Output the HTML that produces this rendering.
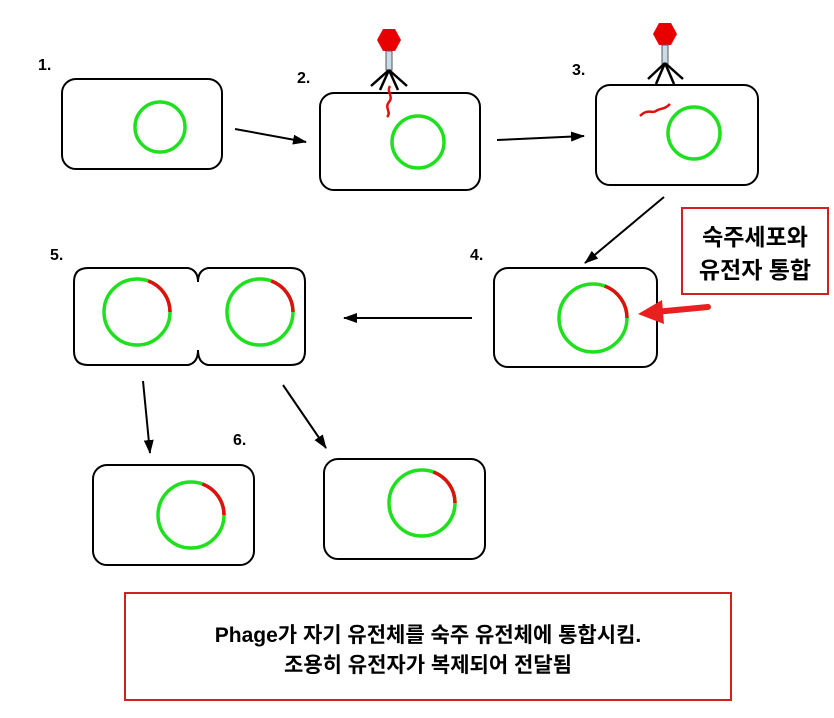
<!DOCTYPE html>
<html><head><meta charset="utf-8"><style>
body{margin:0;background:#fff}
svg text{font-family:"Liberation Sans","Noto Sans CJK KR",sans-serif;font-weight:bold}
</style></head><body>
<svg width="834" height="713" viewBox="0 0 834 713" xmlns="http://www.w3.org/2000/svg">
<defs>
<marker id="a" markerWidth="14" markerHeight="10" refX="13" refY="5" orient="auto" markerUnits="userSpaceOnUse"><path d="M0,0 L14,5 L0,10 z" fill="#000"/></marker>
</defs>
<g fill="none" stroke="#000" stroke-width="2">
<rect x="62" y="79" width="160" height="90" rx="14"/>
<rect x="320" y="93" width="160" height="97" rx="14"/>
<rect x="596" y="85" width="162" height="100" rx="14"/>
<rect x="494" y="268" width="163" height="99" rx="14"/>
<path d="M88,268 H188 Q198,270 198,282 Q198,270 208,268 H291 Q305,268 305,282 V351 Q305,365 291,365 H208 Q198,363 198,350 Q198,363 188,365 H88 Q74,365 74,351 V282 Q74,268 88,268 Z"/>
<rect x="93" y="465" width="161" height="100" rx="14"/>
<rect x="324" y="459" width="161" height="100" rx="14"/>
<g marker-end="url(#a)">
<line x1="235" y1="129" x2="306" y2="142"/>
<line x1="497" y1="140" x2="584" y2="136"/>
<line x1="664" y1="197" x2="585" y2="263"/>
<line x1="472" y1="318" x2="344" y2="318"/>
<line x1="143" y1="381" x2="150" y2="453"/>
<line x1="283" y1="385" x2="326" y2="448"/>
</g>
</g>
<g fill="none" stroke="#1ee01e" stroke-width="3.5">
<circle cx="160" cy="127" r="25"/>
<circle cx="418" cy="142" r="26"/>
<circle cx="694" cy="133" r="26"/>
<circle cx="593" cy="318" r="34"/>
<circle cx="137" cy="312" r="33"/>
<circle cx="260" cy="312" r="33"/>
<circle cx="191" cy="515" r="33"/>
<circle cx="422" cy="503" r="33"/>
</g>
<g fill="none" stroke="#e01010" stroke-width="3.5">
<path d="M604.6,286 A34 34 0 0 1 627,318"/>
<path d="M148.3,281 A33 33 0 0 1 170,312"/>
<path d="M271.3,281 A33 33 0 0 1 293,312"/>
<path d="M202.3,484 A33 33 0 0 1 224,515"/>
<path d="M433.3,472 A33 33 0 0 1 455,503"/>
<path d="M390,86 C386,92 394,96 389,102 C384,108 392,112 387,117" stroke-width="2.5"/>
<path d="M640,116 C648,108 652,114 656,111 C660,108 664,110 670,104" stroke-width="2.5"/>
</g>
<g>
<polygon points="383,29 395,29 401,40 395,51 383,51 377,40" fill="#e80000"/>
<rect x="386" y="51" width="6" height="19" fill="#c8dbe8" stroke="#555" stroke-width="1"/>
<g stroke="#000" stroke-width="2.5"><line x1="389" y1="70" x2="371" y2="86"/><line x1="389" y1="70" x2="380" y2="90"/><line x1="389" y1="70" x2="398" y2="90"/><line x1="389" y1="70" x2="407" y2="86"/></g>
<polygon points="659,23 671,23 677,34 671,45 659,45 653,34" fill="#e80000"/>
<rect x="662" y="45" width="6" height="19" fill="#c8dbe8" stroke="#555" stroke-width="1"/>
<g stroke="#000" stroke-width="2.5"><line x1="665" y1="63" x2="648" y2="79"/><line x1="665" y1="63" x2="656" y2="84"/><line x1="665" y1="63" x2="674" y2="84"/><line x1="665" y1="63" x2="683" y2="79"/></g>
</g>
<line x1="708" y1="307" x2="655" y2="312" stroke="#e82020" stroke-width="6" stroke-linecap="round"/>
<polygon points="638,314 662,300 664,324" fill="#e82020"/>
<g font-size="16">
<text x="38" y="70">1.</text><text x="297" y="83">2.</text><text x="572" y="75">3.</text><text x="470" y="260">4.</text><text x="50" y="260">5.</text><text x="233" y="445">6.</text>
</g>
<rect x="682" y="208" width="146" height="86" fill="none" stroke="#d02020" stroke-width="2"/>
<text x="755" y="245" font-size="23" text-anchor="middle">숙주세포와</text>
<text x="755" y="278" font-size="23" text-anchor="middle">유전자 통합</text>
<rect x="125" y="593" width="606" height="107" fill="none" stroke="#d02020" stroke-width="2"/>
<text x="428" y="642" font-size="21" text-anchor="middle">Phage가 자기 유전체를 숙주 유전체에 통합시킴.</text>
<text x="428" y="672" font-size="21" text-anchor="middle">조용히 유전자가 복제되어 전달됨</text>
</svg>
</body></html>
